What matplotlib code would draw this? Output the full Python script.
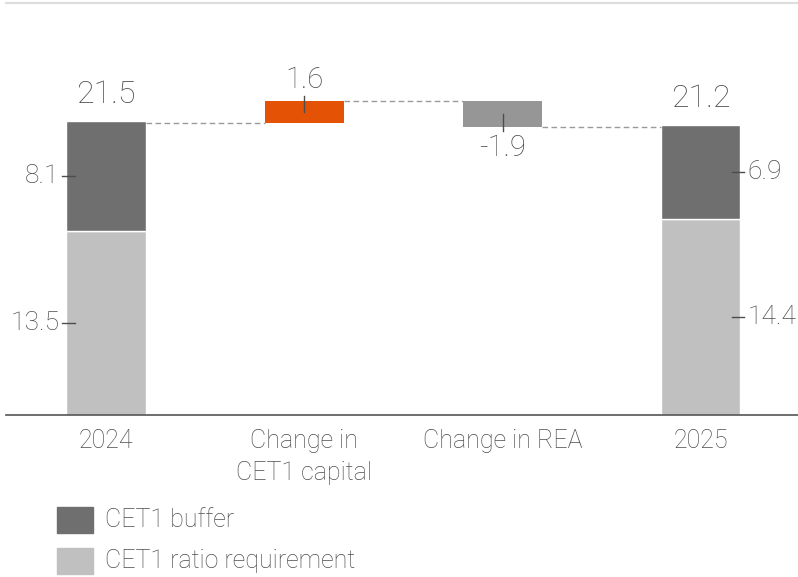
import matplotlib.pyplot as plt
import numpy as np

# CET1 ratio walk, %
categories = ['2024', 'Change in\nCET1 capital', 'Change in REA', '2025']
requirement = [13.5, 14.4]   # 2024, 2025
buffer = [8.1, 6.9]          # 2024, 2025
totals = [21.5, 21.2]
changes = [1.6, -1.9]        # CET1 capital, REA

DARK = '#6f6f6f'
LIGHT = '#c0c0c0'
ORANGE = '#e35205'
NEG = '#969696'
TXT = '#4d4d4d'

plt.rcParams['font.family'] = ['Roboto', 'DejaVu Sans']
plt.rcParams['font.weight'] = 'light'

fig = plt.figure(figsize=(7.98, 5.77), dpi=100)
ax = fig.add_axes([6 / 798, 162 / 577, 792 / 798, 412 / 577])

x = np.arange(len(categories))
w = 0.4
ends_x = [x[0], x[3]]

# opening and closing stacks
for i, xi in enumerate(ends_x):
    ax.bar(xi, requirement[i], w, color=LIGHT, edgecolor='white', linewidth=1)
    ax.bar(xi, buffer[i], w, bottom=requirement[i], color=DARK,
           edgecolor='white', linewidth=1)

# floating change bars
level = totals[0]
steps = []
for c, xi, col in zip(changes, x[1:3], [ORANGE, NEG]):
    ax.bar(xi, c, w, bottom=level, color=col, linewidth=0)
    steps.append((level, level + c))
    level += c

# dashed connectors between bar edges
levels = [totals[0], steps[0][1], steps[1][1]]
for i, y in enumerate(levels):
    ax.plot([x[i] + w / 2, x[i + 1] - w / 2], [y, y], ls=(0, (4, 2.5)),
            color='#9a9a9a', lw=1)

# totals above the stacks
for i, xi in enumerate(ends_x):
    ax.text(xi, totals[i] + 1.0, f'{totals[i]:.1f}', ha='center', va='bottom',
            fontsize=23, color=TXT)

# segment labels with short leader ticks
for i, xi in enumerate(ends_x):
    side = -1 if i == 0 else 1
    edge = xi + side * w / 2
    for m, v in [(requirement[i] / 2, requirement[i]),
                 (requirement[i] + buffer[i] / 2, buffer[i])]:
        ax.plot([edge - side * 0.045, edge + side * 0.02], [m, m],
                color=TXT, lw=1)
        ax.text(edge + side * 0.035, m, f'{v:.1f}',
                ha='right' if side < 0 else 'left', va='center',
                fontsize=19, color=TXT)

# change labels with vertical leader ticks
(a0, a1), (b0, b1) = steps
ax.plot([x[1], x[1]], [a1 - 0.8, a1 + 0.35], color=TXT, lw=1)
ax.text(x[1], a1 + 0.5, f'{changes[0]:.1f}', ha='center', va='bottom',
        fontsize=21, color=TXT)
ax.plot([x[2], x[2]], [b1 + 0.9, b1 - 0.35], color=TXT, lw=1)
ax.text(x[2], b1 - 0.5, f'{changes[1]:.1f}', ha='center', va='top',
        fontsize=21, color=TXT)

ax.set_xlim(-0.504, 3.49)
ax.set_ylim(0, 30.3)
ax.set_xticks(x)
ax.set_xticklabels(categories, fontsize=18, color=TXT, linespacing=1.45)
ax.tick_params(axis='x', length=0, pad=10)
ax.set_yticks([])
for s in ['left', 'right']:
    ax.spines[s].set_visible(False)
ax.spines['bottom'].set_color('#555555')
ax.spines['bottom'].set_linewidth(1.2)
ax.spines['top'].set_color('#dddddd')
ax.spines['top'].set_linewidth(1.5)

# legend drawn as patches in figure coords
lx, sw, sh = 57 / 798, 36 / 798, 26 / 577
for ytop, col, lab in [(507, DARK, 'CET1 buffer'), (548, LIGHT, 'CET1 ratio requirement')]:
    fy = 1 - (ytop + 26) / 577
    fig.patches.append(plt.Rectangle((lx, fy), sw, sh, color=col,
                                     transform=fig.transFigure))
    fig.text(105 / 798, fy + sh / 2, lab, va='center', ha='left',
             fontsize=18, color=TXT)

fig.savefig('out.png', dpi=100)
